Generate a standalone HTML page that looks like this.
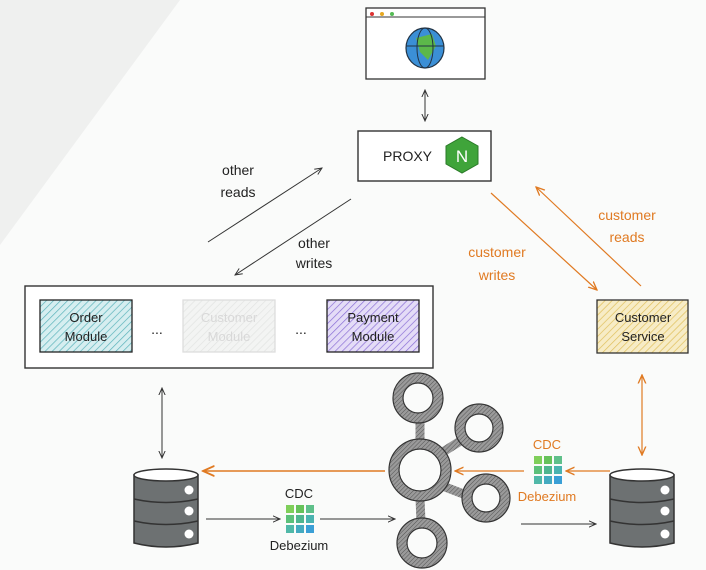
<!DOCTYPE html>
<html><head><meta charset="utf-8"><style>
html,body{margin:0;padding:0;background:#fafbfa;}
svg{display:block}
text{font-family:"Liberation Sans",sans-serif;}
</style></head><body>
<svg width="706" height="570" viewBox="0 0 706 570" xmlns="http://www.w3.org/2000/svg">
<defs>
<pattern id="hT" width="5" height="5" patternUnits="userSpaceOnUse" patternTransform="rotate(45)"><rect width="5" height="5" fill="#d6eef0"/><line x1="0" y1="0" x2="0" y2="5" stroke="#5bb3bb" stroke-width="1.4"/></pattern>
<pattern id="hP" width="5" height="5" patternUnits="userSpaceOnUse" patternTransform="rotate(45)"><rect width="5" height="5" fill="#e4dcf7"/><line x1="0" y1="0" x2="0" y2="5" stroke="#8a6fd6" stroke-width="1.4"/></pattern>
<pattern id="hY" width="5" height="5" patternUnits="userSpaceOnUse" patternTransform="rotate(45)"><rect width="5" height="5" fill="#f7ecc6"/><line x1="0" y1="0" x2="0" y2="5" stroke="#e0bf5c" stroke-width="1.4"/></pattern>
<pattern id="hG" width="5" height="5" patternUnits="userSpaceOnUse" patternTransform="rotate(45)"><rect width="5" height="5" fill="#f3f4f3"/><line x1="0" y1="0" x2="0" y2="5" stroke="#e2e4e2" stroke-width="1.4"/></pattern>
<pattern id="hK" width="3" height="3" patternUnits="userSpaceOnUse" patternTransform="rotate(45)"><rect width="3" height="3" fill="#9a9a9a"/><line x1="0" y1="0" x2="0" y2="3" stroke="#555" stroke-width="1"/></pattern>
<marker id="ab" viewBox="0 0 10 10" refX="9" refY="5" markerWidth="8" markerHeight="8" orient="auto-start-reverse"><path d="M0,1 L9,5 L0,9" fill="none" stroke="#333" stroke-width="1.2"/></marker>
<marker id="ao" viewBox="0 0 10 10" refX="9" refY="5" markerWidth="8" markerHeight="8" orient="auto-start-reverse"><path d="M0,1 L9,5 L0,9" fill="none" stroke="#e07a22" stroke-width="1.4"/></marker>
<g id="db">
<path d="M0,6 L0,74 Q32,82 64,74 L64,6 Z" fill="#6d7172" stroke="#333" stroke-width="1.5"/>
<ellipse cx="32" cy="6" rx="32" ry="6" fill="#fff" stroke="#333" stroke-width="1.5"/>
<path d="M0,30 Q32,37 64,30 M0,52 Q32,59 64,52" fill="none" stroke="#333" stroke-width="1.5"/>
<circle cx="55" cy="21" r="4.5" fill="#fff"/><circle cx="55" cy="42" r="4.5" fill="#fff"/><circle cx="55" cy="65" r="4.5" fill="#fff"/>
</g>
<g id="deb">
<rect x="0" y="0" width="8" height="8" fill="#7fcf5a"/><rect x="10" y="0" width="8" height="8" fill="#66c25a"/><rect x="20" y="0" width="8" height="8" fill="#5fc08a"/>
<rect x="0" y="10" width="8" height="8" fill="#5cc07a"/><rect x="10" y="10" width="8" height="8" fill="#4fb58f"/><rect x="20" y="10" width="8" height="8" fill="#4ab3b0"/>
<rect x="0" y="20" width="8" height="8" fill="#50b8a8"/><rect x="10" y="20" width="8" height="8" fill="#44aac0"/><rect x="20" y="20" width="8" height="8" fill="#3a9fd6"/>
</g>
</defs>
<polygon points="0,0 180,0 0,245" fill="#eff0ef"/>
<!-- browser -->
<rect x="366" y="8" width="119" height="71" fill="#fff" stroke="#333" stroke-width="1.3"/>
<line x1="366" y1="17" x2="485" y2="17" stroke="#333" stroke-width="1"/>
<circle cx="372" cy="14" r="2" fill="#d33"/><circle cx="382" cy="14" r="2" fill="#e6a822"/><circle cx="392" cy="14" r="2" fill="#5b5"/>
<ellipse cx="425" cy="48" rx="19" ry="20" fill="#3b8fd6" stroke="#234" stroke-width="1.2"/>
<path d="M416,38 L432,34 L436,46 L428,60 L420,52 Z" fill="#5cb84a"/>
<ellipse cx="425" cy="48" rx="8" ry="20" fill="none" stroke="#234" stroke-width="1"/>
<line x1="406" y1="46" x2="444" y2="46" stroke="#234"/>
<line x1="425" y1="90" x2="425" y2="121" stroke="#333" stroke-width="1" marker-start="url(#ab)" marker-end="url(#ab)"/>
<!-- proxy -->
<rect x="358" y="131" width="133" height="50" fill="#fff" stroke="#333" stroke-width="1.4"/>
<text x="383" y="161" font-size="14" fill="#222">PROXY</text>
<polygon points="462,137 478,146 478,164 462,173 446,164 446,146" fill="#3fa43a" stroke="#2a7a28"/>
<text x="462" y="162" font-size="17" fill="#fff" text-anchor="middle">N</text>
<!-- black diagonal -->
<line x1="208" y1="242" x2="322" y2="168" stroke="#333" stroke-width="1" marker-end="url(#ab)"/>
<line x1="351" y1="199" x2="235" y2="275" stroke="#333" stroke-width="1" marker-end="url(#ab)"/>
<text x="238" y="175" font-size="14" fill="#222" text-anchor="middle">other</text>
<text x="238" y="197" font-size="14" fill="#222" text-anchor="middle">reads</text>
<text x="314" y="248" font-size="14" fill="#222" text-anchor="middle">other</text>
<text x="314" y="268" font-size="14" fill="#222" text-anchor="middle">writes</text>
<!-- orange diagonal -->
<line x1="491" y1="193" x2="597" y2="290" stroke="#e07a22" stroke-width="1.2" marker-end="url(#ao)"/>
<line x1="641" y1="286" x2="536" y2="187" stroke="#e07a22" stroke-width="1.2" marker-end="url(#ao)"/>
<text x="627" y="220" font-size="14" fill="#e07a22" text-anchor="middle">customer</text>
<text x="627" y="242" font-size="14" fill="#e07a22" text-anchor="middle">reads</text>
<text x="497" y="257" font-size="14" fill="#e07a22" text-anchor="middle">customer</text>
<text x="497" y="280" font-size="14" fill="#e07a22" text-anchor="middle">writes</text>
<!-- monolith -->
<rect x="25" y="286" width="408" height="82" fill="#fff" stroke="#333" stroke-width="1.4"/>
<rect x="40" y="300" width="92" height="52" fill="url(#hT)" stroke="#222" stroke-width="1.3"/>
<text x="86" y="322" font-size="13" fill="#222" text-anchor="middle">Order</text>
<text x="86" y="341" font-size="13" fill="#222" text-anchor="middle">Module</text>
<rect x="183" y="300" width="92" height="52" fill="url(#hG)" stroke="#ddd" stroke-width="1.3"/>
<text x="229" y="322" font-size="13" fill="#d8d8d8" text-anchor="middle">Customer</text>
<text x="229" y="341" font-size="13" fill="#d8d8d8" text-anchor="middle">Module</text>
<rect x="327" y="300" width="92" height="52" fill="url(#hP)" stroke="#222" stroke-width="1.3"/>
<text x="373" y="322" font-size="13" fill="#222" text-anchor="middle">Payment</text>
<text x="373" y="341" font-size="13" fill="#222" text-anchor="middle">Module</text>
<text x="157" y="334" font-size="14" fill="#222" text-anchor="middle">...</text>
<text x="301" y="334" font-size="14" fill="#222" text-anchor="middle">...</text>
<rect x="597" y="300" width="91" height="53" fill="url(#hY)" stroke="#333" stroke-width="1.3"/>
<text x="643" y="322" font-size="13" fill="#222" text-anchor="middle">Customer</text>
<text x="643" y="341" font-size="13" fill="#222" text-anchor="middle">Service</text>
<!-- verticals -->
<line x1="162" y1="388" x2="162" y2="458" stroke="#333" stroke-width="1" marker-start="url(#ab)" marker-end="url(#ab)"/>
<line x1="642" y1="375" x2="642" y2="455" stroke="#e07a22" stroke-width="1.2" marker-start="url(#ao)" marker-end="url(#ao)"/>
<!-- DBs -->
<use href="#db" x="134" y="469"/>
<use href="#db" x="610" y="469"/>
<!-- kafka -->
<g fill="none" stroke="url(#hK)" stroke-width="9">
<line x1="420" y1="420" x2="420" y2="445"/><line x1="438" y1="455" x2="462" y2="440"/>
<line x1="440" y1="485" x2="466" y2="495"/><line x1="420" y1="498" x2="421" y2="522"/>
<circle cx="420" cy="470" r="26"/><circle cx="418" cy="398" r="20"/><circle cx="479" cy="428" r="19"/>
<circle cx="486" cy="498" r="19"/><circle cx="422" cy="543" r="20"/>
</g>
<g fill="none" stroke="#333" stroke-width="1.2">
<circle cx="420" cy="470" r="31"/><circle cx="420" cy="470" r="21"/>
<circle cx="418" cy="398" r="25"/><circle cx="418" cy="398" r="15"/>
<circle cx="479" cy="428" r="24"/><circle cx="479" cy="428" r="14"/>
<circle cx="486" cy="498" r="24"/><circle cx="486" cy="498" r="14"/>
<circle cx="422" cy="543" r="25"/><circle cx="422" cy="543" r="15"/>
</g>
<!-- horizontal arrows -->
<line x1="385" y1="471" x2="203" y2="471" stroke="#e07a22" stroke-width="1.6" marker-end="url(#ao)"/>
<line x1="524" y1="471" x2="455" y2="471" stroke="#e07a22" stroke-width="1.2" marker-end="url(#ao)"/>
<line x1="610" y1="471" x2="566" y2="471" stroke="#e07a22" stroke-width="1.2" marker-end="url(#ao)"/>
<line x1="206" y1="519" x2="280" y2="519" stroke="#333" stroke-width="1" marker-end="url(#ab)"/>
<line x1="320" y1="519" x2="395" y2="519" stroke="#333" stroke-width="1" marker-end="url(#ab)"/>
<line x1="521" y1="524" x2="596" y2="524" stroke="#333" stroke-width="1" marker-end="url(#ab)"/>
<!-- debezium -->
<use href="#deb" x="286" y="505"/>
<text x="299" y="498" font-size="13" fill="#222" text-anchor="middle">CDC</text>
<text x="299" y="550" font-size="13" fill="#222" text-anchor="middle">Debezium</text>
<use href="#deb" x="534" y="456"/>
<text x="547" y="449" font-size="13" fill="#e07a22" text-anchor="middle">CDC</text>
<text x="547" y="501" font-size="13" fill="#e07a22" text-anchor="middle">Debezium</text>
</svg>
</body></html>
